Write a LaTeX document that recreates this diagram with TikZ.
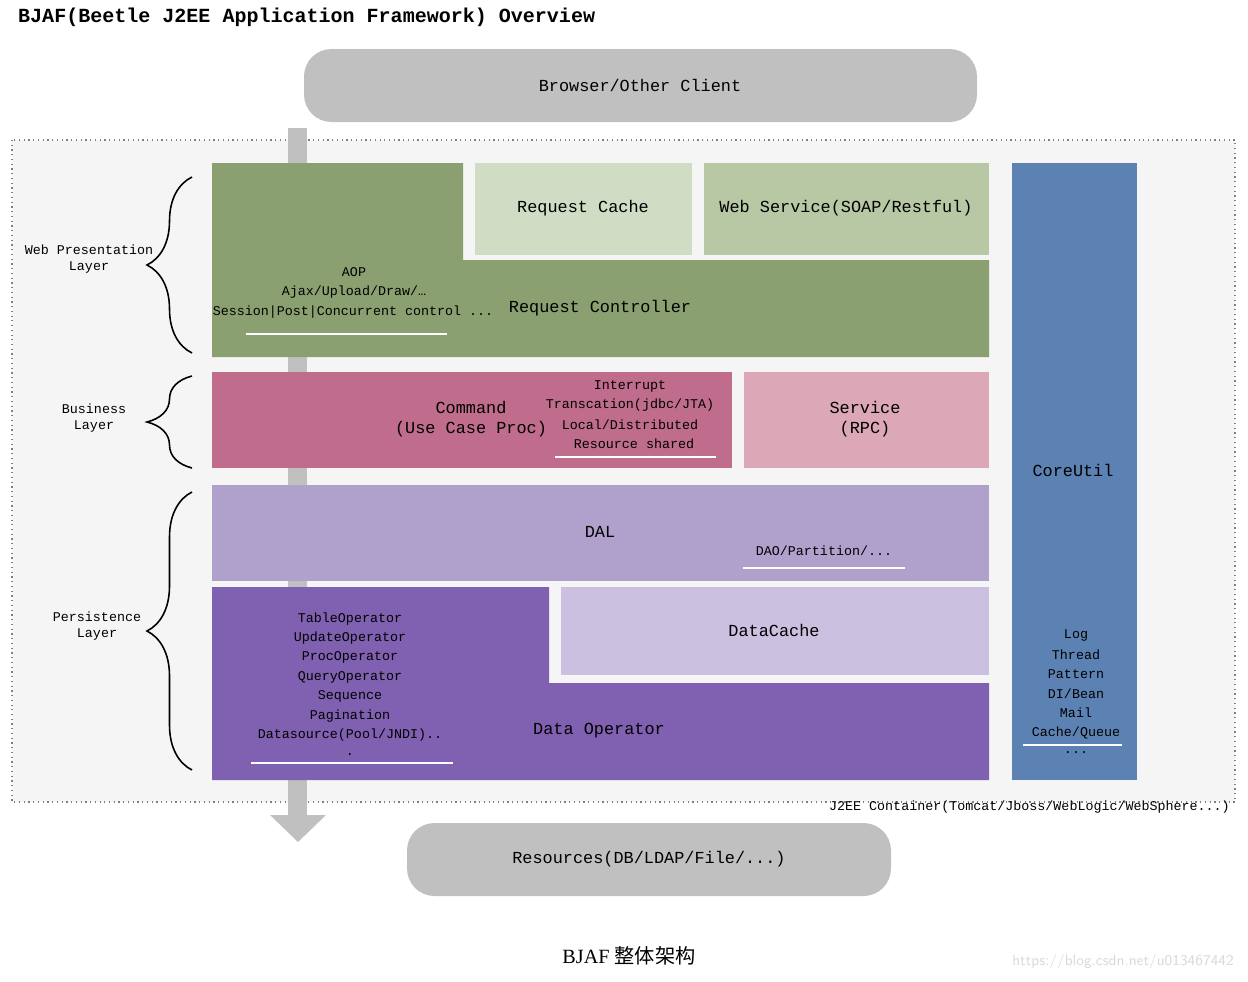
\documentclass[tikz,border=0pt]{standalone}
\usepackage{fontspec}
\setmainfont{Liberation Serif}
\setmonofont{Liberation Mono}
\newfontfamily\cjk{Noto Sans CJK SC}
\usetikzlibrary{decorations.pathreplacing}
\definecolor{gbox}{HTML}{C0C0C0}
\definecolor{green1}{HTML}{8AA070}
\definecolor{green2}{HTML}{D0DCC4}
\definecolor{green3}{HTML}{B8C8A4}
\definecolor{rose1}{HTML}{C06C8C}
\definecolor{rose2}{HTML}{DCA8B8}
\definecolor{lav1}{HTML}{B0A0CC}
\definecolor{pur1}{HTML}{8060B0}
\definecolor{pur2}{HTML}{CCC0E0}
\definecolor{blue1}{HTML}{5C82B4}
\begin{document}
\begin{tikzpicture}[x=0.02cm,y=-0.02cm,
  big/.style={font=\ttfamily\fontsize{9.6}{11}\selectfont},
  sm/.style={font=\ttfamily\fontsize{7.6}{9}\selectfont},
  ul/.style={white,line width=1.2pt},
  br/.style={decorate,decoration={brace,amplitude=0.9cm},line width=0.9pt},
  pill/.style={fill=gbox,rounded corners=0.55cm,draw=none}]
\useasboundingbox (0,0) rectangle (1248,981);
\node[anchor=west,font=\ttfamily\bfseries\fontsize{11.4}{13}\selectfont] (title) at (12,17) {BJAF(Beetle J2EE Application Framework) Overview};
\fill[pill] (304,49) rectangle (977,122);
\node[big] (browser) at (640,85) {Browser/Other Client};
\filldraw[fill=black!4,draw=black!50,dotted,line width=0.7pt] (12,140) rectangle (1235,802);
% flow arrow
\fill[gbox] (288,128) rectangle (307,815);
\fill[gbox] (270,815) -- (326,815) -- (298,842) -- cycle;
% web presentation
\fill[green1] (212,163) -- (463,163) -- (463,260) -- (989,260) -- (989,357) -- (212,357) -- cycle;
\fill[green2] (475,163) rectangle (692,255);
\fill[green3] (704,163) rectangle (989,255);
\node[big] (rc) at (583,208) {Request Cache};
\node[big] (ws) at (846,208) {Web Service(SOAP/Restful)};
\node[sm] (aop) at (354,272) {AOP};
\node[sm] (ajax) at (354,292) {Ajax/Upload/Draw/…};
\node[sm] (sess) at (353,312) {Session|Post|Concurrent control ...};
\draw[ul] (246,334) -- (447,334);
\node[big] (reqc) at (600,308) {Request Controller};
% business
\fill[rose1] (212,372) rectangle (732,468);
\fill[rose2] (744,372) rectangle (989,468);
\node[big,align=center] (cmd) at (471,419) {Command\\(Use Case Proc)};
\node[sm] (intr) at (630,386) {Interrupt};
\node[sm] (tr) at (630,405) {Transcation(jdbc/JTA)};
\node[sm] (ld) at (630,425) {Local/Distributed};
\node[sm] (rs) at (634,444) {Resource shared};
\draw[ul] (555,457) -- (716,457);
\node[big,align=center] (svc) at (865,419) {Service\\(RPC)};
% DAL
\fill[lav1] (212,485) rectangle (989,581);
\node[big] (dal) at (600,532) {DAL};
\node[sm] (dao) at (824,551) {DAO/Partition/...};
\draw[ul] (743,568) -- (905,568);
% data operator
\fill[pur1] (212,587) -- (549,587) -- (549,683) -- (989,683) -- (989,780) -- (212,780) -- cycle;
\fill[pur2] (561,587) rectangle (989,675);
\node[big] (dc) at (774,630) {DataCache};
\node[big] (dop) at (599,731) {Data Operator};
\foreach \t [count=\i from 0] in {TableOperator,UpdateOperator,ProcOperator,QueryOperator,Sequence,Pagination,Datasource(Pool/JNDI)..}
  \node[sm] (op\i) at (350,619+19.4*\i) {\t};
\node[sm] (dot) at (350,755) {.};
\draw[ul] (251,763) -- (453,763);
% core util
\fill[blue1] (1012,163) rectangle (1137,780);
\node[big] (cu) at (1073,470) {CoreUtil};
\foreach \t [count=\i from 0] in {Log,Thread,Pattern,DI/Bean,Mail,Cache/Queue}
  \node[sm] (cu\i) at (1076,635+19.5*\i) {\t};
\draw[ul] (1023,745) -- (1122,745);
\node[sm] (cudots) at (1076,753) {...};
% braces
\draw[br] (192,353) -- (192,177);
\draw[br] (192,468) -- (192,376);
\draw[br] (192,770) -- (192,492);
\node[sm,align=center] (wl) at (89,259) {Web Presentation\\Layer};
\node[sm,align=center] (bl) at (94,418) {Business\\Layer};
\node[sm,align=center] (pl) at (97,626) {Persistence\\Layer};
\node[sm,anchor=east] (j2ee) at (1236,807) {J2EE Container(Tomcat/Jboss/WebLogic/WebSphere...)};
% resources
\fill[pill] (407,823) rectangle (891,896);
\node[big] (res) at (649,859) {Resources(DB/LDAP/File/...)};
\node[font=\fontsize{11.5}{13}\selectfont] (cap) at (629,956) {BJAF {\cjk 整体架构}};
\node[anchor=east,font=\sffamily\fontsize{8.5}{10}\selectfont,text=black!15] (wm) at (1240,962) {https://blog.csdn.net/u013467442};
\end{tikzpicture}
\end{document}
